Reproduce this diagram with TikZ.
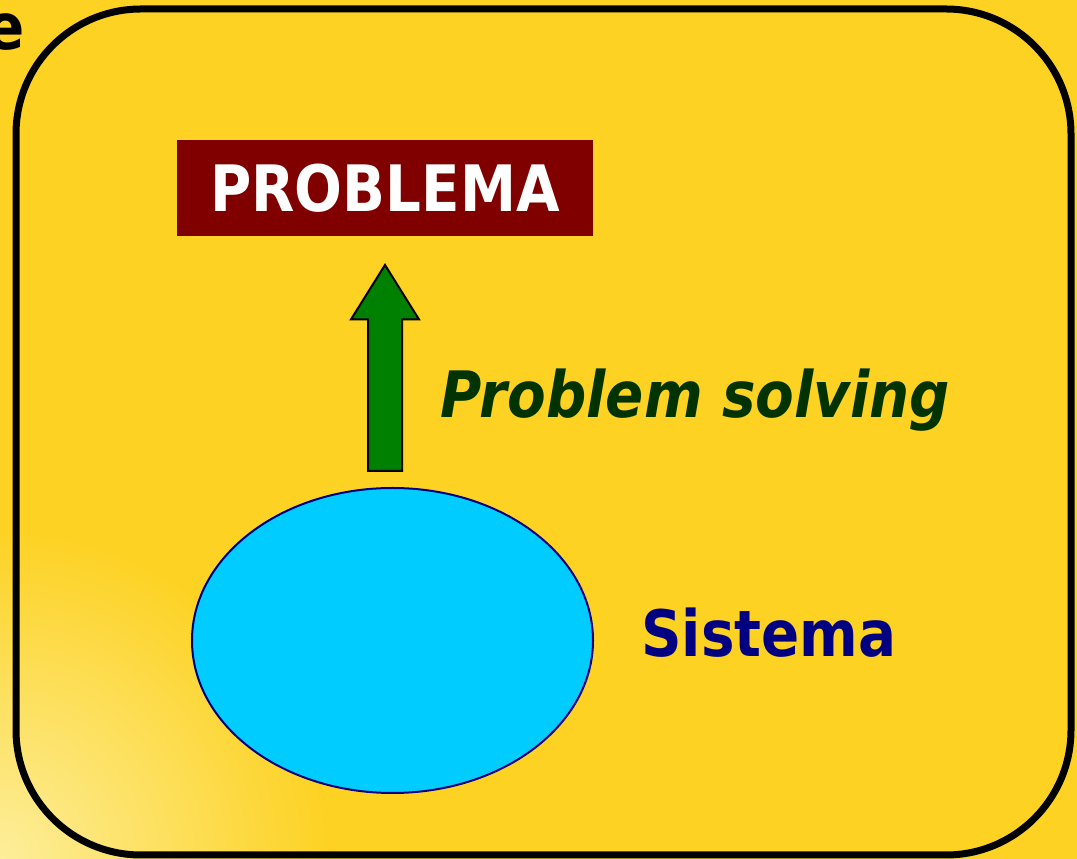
\documentclass[tikz,border=0pt]{standalone}
\usepackage{fontspec}
\usepackage{xcolor}
\usetikzlibrary{positioning,shapes.geometric,shapes.arrows}
\newfontfamily\verd[FakeStretch=0.88]{DejaVu Sans}
\definecolor{bgyel}{HTML}{FDD223}
\definecolor{bgpale}{HTML}{FDEE9A}
\definecolor{pbred}{HTML}{800000}
\definecolor{sgreen}{HTML}{008000}
\definecolor{dgreen}{HTML}{003300}
\definecolor{snavy}{HTML}{000080}
\definecolor{scyan}{HTML}{00CCFF}
\tikzset{
  bigtxt/.style={font=\verd\bfseries\fontsize{64}{70}\selectfont,inner sep=0pt},
  frame/.style={draw=black,line width=7pt,rounded corners=125pt},
  probbox/.style={bigtxt,fill=pbred,text=white,minimum width=416pt,minimum height=96pt},
  sysell/.style={ellipse,draw=snavy,line width=2pt,fill=scyan,minimum width=401pt,
                 minimum height=305pt,inner sep=0pt},
  blockarr/.style={single arrow,draw=black,line width=2pt,fill=sgreen,rotate=90,
                   minimum height=206pt,minimum width=66pt,inner sep=16pt,
                   single arrow head extend=17pt,single arrow tip angle=64,
                   single arrow head indent=0pt},
  lbl/.style={bigtxt,anchor=base west}
}
\begin{document}
\begin{tikzpicture}[x=1pt,y=1pt]
\useasboundingbox (0,0) rectangle (1077,859);
\fill[bgyel] (0,0) rectangle (1077,859);
\begin{scope}
  \clip (0,0) rectangle (1077,859);
  \shade[inner color=bgpale,outer color=bgyel] (0,0) circle (330pt);
\end{scope}

\node[bigtxt,anchor=base east,text=black] (ttl) at (25,809) {e};
\draw[frame] (16,4) rectangle (1071,850);

\node[sysell] (sys) at (392.5,218.5) {};
\node[blockarr,anchor=tail] (up) at ([xshift=-7.5pt,yshift=15pt]sys.north) {};
\node[probbox,above=27pt of up.tip] (prob) {PROBLEMA};

\node[lbl,text=dgreen] (ps) at (440,441) {\itshape Problem solving};
\node[lbl,text=snavy] (sl) at (641,202) {Sistema};
\end{tikzpicture}
\end{document}
